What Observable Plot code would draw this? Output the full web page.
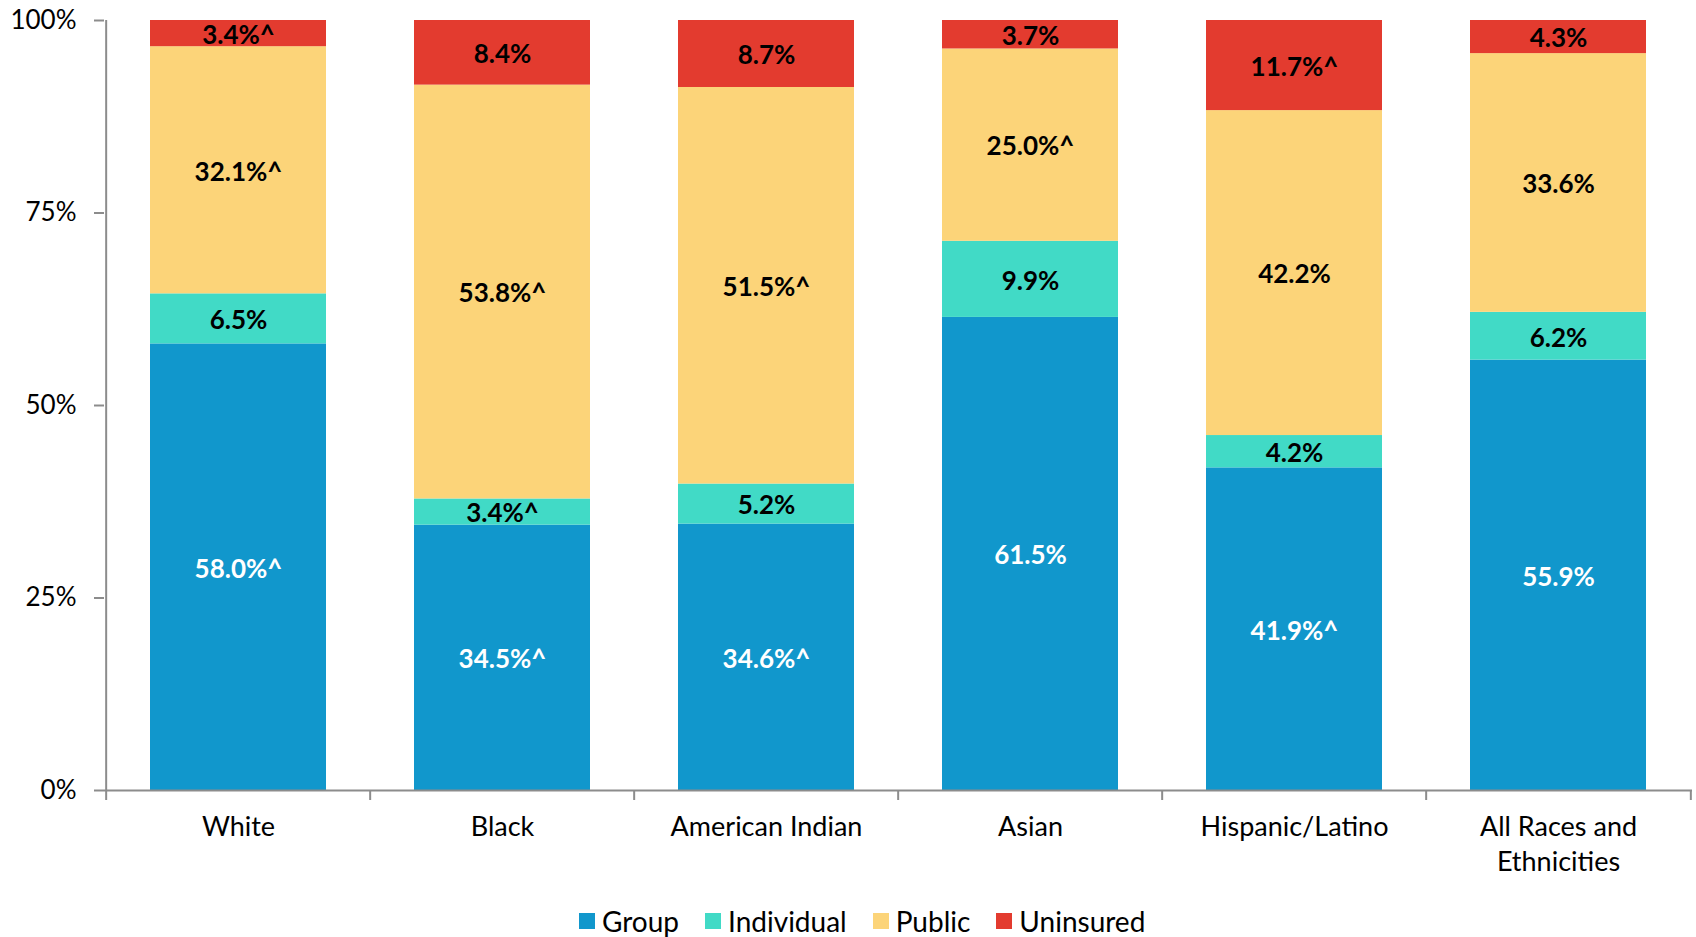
<!DOCTYPE html>
<html>
<head>
<meta charset="utf-8">
<script src="https://cdn.jsdelivr.net/npm/d3@7"></script>
<script src="https://cdn.jsdelivr.net/npm/@observablehq/plot@0.6"></script>
<style>
  body { margin: 0; background: #fff; font-family: Lato, sans-serif; }
  #chart svg { display: block; }
  #legend { position: relative; width: 1696px; height: 47px; }
  #legend .row { position: absolute; left: 579px; top: 14px; display: flex; align-items: center; gap: 26px; font-size: 28px; color: #000; }
  #legend .item { display: flex; align-items: center; gap: 7px; }
  #legend .sw { width: 16px; height: 16px; display: inline-block; }
</style>
</head>
<body>
<div id="chart"></div>
<div id="legend"><div class="row"></div></div>
<script>
const categories = ["White", "Black", "American Indian", "Asian", "Hispanic/Latino", "All Races and Ethnicities"];
const types = ["Group", "Individual", "Public", "Uninsured"];
const colors = ["#1197CC", "#41DAC6", "#FCD479", "#E33B2F"];

const groupValues      = [58.0, 34.5, 34.6, 61.5, 41.9, 55.9];
const individualValues = [6.5, 3.4, 5.2, 9.9, 4.2, 6.2];
const publicValues     = [32.1, 53.8, 51.5, 25.0, 42.2, 33.6];
const uninsuredValues  = [3.4, 8.4, 8.7, 3.7, 11.7, 4.3];

const groupFlags      = [true, true, true, false, true, false];
const individualFlags = [false, true, false, false, false, false];
const publicFlags     = [true, true, true, true, false, false];
const uninsuredFlags  = [true, false, false, false, true, false];

const yTicks = [0, 0.25, 0.5, 0.75, 1];

const seriesValues = [groupValues, individualValues, publicValues, uninsuredValues];
const seriesFlags = [groupFlags, individualFlags, publicFlags, uninsuredFlags];

const rows = [];
categories.forEach((c, i) => {
  types.forEach((t, j) => {
    rows.push({category: c, type: t, value: seriesValues[j][i], flag: seriesFlags[j][i]});
  });
});
const label = d => d.value.toFixed(1) + "%" + (d.flag ? "^" : "");

const W = 1696, ML = 104, MR = 4;
const step = (W - ML - MR) / categories.length;

const textOpts = {x: "category", y: "value", z: "type", offset: "normalize", text: label,
  fontSize: 26, fontWeight: "bold", dy: 2};

const chart = Plot.plot({
  width: W,
  height: 890,
  marginLeft: ML,
  marginRight: MR,
  marginTop: 20,
  marginBottom: 100,
  style: {fontFamily: "Lato, sans-serif", fontSize: "25px", color: "#000", background: "#fff"},
  x: {domain: categories, paddingInner: 1/3, paddingOuter: 1/6, label: null},
  y: {domain: [0, 1], label: null},
  color: {domain: types, range: colors},
  marks: [
    Plot.barY(rows, {x: "category", y: "value", fill: "type", z: "type", offset: "normalize"}),
    Plot.text(rows, Plot.filter(d => d.type === "Group", Plot.stackY({...textOpts, fill: "white"}))),
    Plot.text(rows, Plot.filter(d => d.type !== "Group", Plot.stackY({...textOpts, fill: "black"}))),
    Plot.ruleY([0], {stroke: "#8c8c8c", strokeWidth: 2}),
    Plot.ruleX([categories[0]], {x: d => d, y1: 1, y2: 0, dx: -step / 2, insetBottom: -10, stroke: "#8c8c8c", strokeWidth: 2}),
    Plot.ruleX(categories.slice(1), {x: d => d, y1: 0, y2: 0, dx: -step / 2, insetBottom: -10, stroke: "#8c8c8c", strokeWidth: 2}),
    Plot.ruleX([categories[categories.length - 1]], {x: d => d, y1: 0, y2: 0, dx: step / 2, insetBottom: -10, stroke: "#8c8c8c", strokeWidth: 2}),
    Plot.axisY({ticks: yTicks, tickFormat: d => Math.round(d * 100) + "%", tickSize: 10, tickPadding: 18,
      stroke: "#8c8c8c", strokeWidth: 2, fontSize: 26, label: null}),
    Plot.axisX({tickSize: 0, tickPadding: 21, fontSize: 27, lineHeight: 1.28, label: null,
      tickFormat: d => d === "All Races and Ethnicities" ? "All Races and\nEthnicities" : d})
  ]
});
document.getElementById("chart").appendChild(chart);

const row = document.querySelector("#legend .row");
types.forEach((t, i) => {
  const item = document.createElement("div");
  item.className = "item";
  const sw = document.createElement("span");
  sw.className = "sw";
  sw.style.background = colors[i];
  const tx = document.createElement("span");
  tx.textContent = t;
  item.appendChild(sw);
  item.appendChild(tx);
  row.appendChild(item);
});
</script>
</body>
</html>
